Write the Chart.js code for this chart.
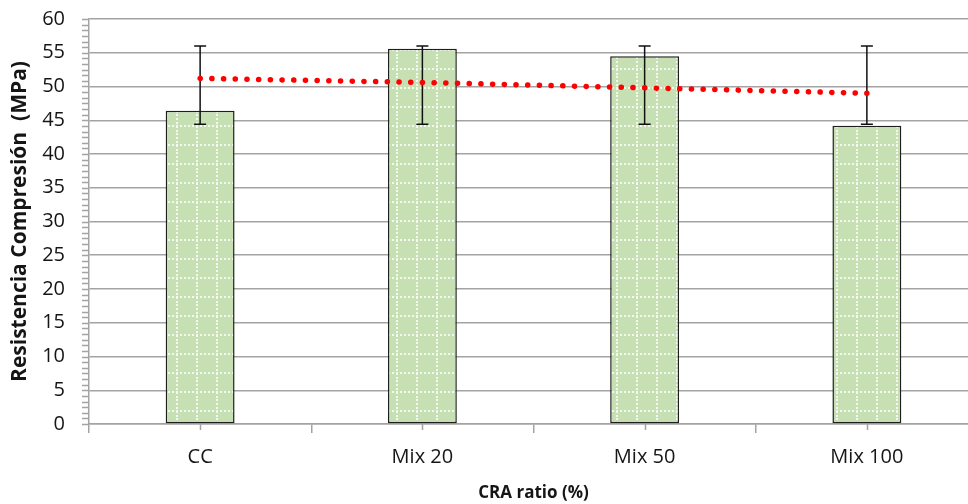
<!DOCTYPE html>
<html>
<head>
<meta charset="utf-8">
<script src="https://cdn.jsdelivr.net/npm/chart.js@4.4.1/dist/chart.umd.min.js"></script>
<style>
  html, body { margin: 0; padding: 0; background: #fff; overflow: hidden; }
  #wrap { width: 978px; height: 504px; }
</style>
</head>
<body>
<div id="wrap"><canvas id="resChart" width="978" height="504"></canvas></div>
<script>
const categories = ["CC", "Mix 20", "Mix 50", "Mix 100"];
const strength = [46.4, 55.6, 54.5, 44.2];
const errHigh = [56.0, 56.0, 56.0, 56.0];
const errLow = [44.4, 44.4, 44.4, 44.4];
const trend = [51.2, 50.6, 49.8, 49.0];

const gridGray = "#a3a3a3";
const textColor = "#151515";

function makeDotPattern() {
  const c = document.createElement("canvas");
  c.width = 20;
  c.height = 19;
  const g = c.getContext("2d");
  g.fillStyle = "#c6e0b4";
  g.fillRect(0, 0, 20, 19);
  g.fillStyle = "#f3f9ef";
  // dotted vertical + horizontal line in each tile
  for (let y = 0; y < 19; y += 4) g.fillRect(16, y, 2, 2);
  for (let x = 0; x < 20; x += 4) g.fillRect(x, 11, 2, 2);
  return g.createPattern(c, "repeat");
}

// whiskers for the bars, drawn right after the bar dataset
const errorBars = {
  id: "errorBars",
  afterDatasetDraw(chart, args) {
    if (args.meta.type !== "bar") return;
    const { ctx } = chart;
    const x = chart.scales.x;
    const y = chart.scales.y;
    ctx.save();
    ctx.strokeStyle = "#111";
    ctx.lineWidth = 1.5;
    categories.forEach((c, i) => {
      const px = x.getPixelForValue(i);
      const top = y.getPixelForValue(errHigh[i]);
      const bot = y.getPixelForValue(errLow[i]);
      ctx.beginPath();
      ctx.moveTo(px, top);
      ctx.lineTo(px, bot);
      ctx.moveTo(px - 6, top);
      ctx.lineTo(px + 6, top);
      ctx.moveTo(px - 6, bot);
      ctx.lineTo(px + 6, bot);
      ctx.stroke();
    });
    ctx.restore();
  },
};

// y ticks (major + 5 minor per step) and small ticks under category centers
const axisTicks = {
  id: "axisTicks",
  afterDraw(chart) {
    const { ctx } = chart;
    const y = chart.scales.y;
    const x = chart.scales.x;
    ctx.save();
    ctx.strokeStyle = gridGray;
    ctx.lineWidth = 1.5;
    ctx.beginPath();
    for (let i = 0; i <= 72; i++) {
      const py = Math.round(y.getPixelForValue((i * 5) / 6)) + 0.5;
      ctx.moveTo(y.right - 7, py);
      ctx.lineTo(y.right, py);
    }
    categories.forEach((c, i) => {
      const px = Math.round(x.getPixelForValue(i)) + 0.5;
      ctx.moveTo(px, x.top);
      ctx.lineTo(px, x.top + 6);
    });
    ctx.stroke();
    ctx.restore();
  },
};

const ctx = document.getElementById("resChart").getContext("2d");

const config = {
  type: "bar",
  data: {
    labels: categories,
    datasets: [
      {
        type: "line",
        data: trend,
        borderColor: "#ff0000",
        borderWidth: 5.5,
        borderDash: [0.1, 11.6],
        borderCapStyle: "round",
        pointRadius: 0,
        fill: false,
        order: 0,
      },
      {
        type: "bar",
        data: strength,
        backgroundColor: makeDotPattern(),
        borderColor: "#1e1e1e",
        borderWidth: 1.5,
        borderSkipped: false,
        categoryPercentage: 1,
        barPercentage: 0.31,
        order: 1,
      },
    ],
  },
  options: {
    responsive: false,
    animation: false,
    layout: {
      padding: { top: 19, right: 0, left: 0, bottom: 0 },
    },
    plugins: {
      legend: { display: false },
      tooltip: { enabled: false },
    },
    scales: {
      x: {
        offset: true,
        grid: {
          offset: true,
          drawOnChartArea: false,
          drawTicks: true,
          tickLength: 9,
          color: gridGray,
          lineWidth: 1.5,
        },
        border: { color: gridGray, width: 1.5 },
        ticks: {
          color: textColor,
          font: { family: "Open Sans", size: 20 },
          padding: 12,
          maxRotation: 0,
        },
        title: {
          display: true,
          text: "CRA ratio (%)",
          color: textColor,
          font: { family: "Open Sans", size: 17, weight: "bold" },
          padding: { top: 0, bottom: 1 },
        },
        afterFit(scale) {
          scale.height = 80;
        },
      },
      y: {
        min: 0,
        max: 60,
        grid: {
          color: gridGray,
          lineWidth: 1.5,
          tickLength: 19,
          tickColor: "rgba(0,0,0,0)",
        },
        border: { color: gridGray, width: 1.5 },
        ticks: {
          stepSize: 5,
          color: textColor,
          font: { family: "Open Sans", size: 20 },
          padding: 5,
        },
        title: {
          display: true,
          text: "Resistencia Compresión  (MPa)",
          color: textColor,
          font: { family: "Open Sans", size: 21, weight: "bold" },
          padding: { top: 7, bottom: 0 },
        },
        afterFit(scale) {
          scale.width = 89;
        },
      },
    },
  },
  plugins: [errorBars, axisTicks],
};

const resChart = new Chart(ctx, config);
</script>
</body>
</html>
